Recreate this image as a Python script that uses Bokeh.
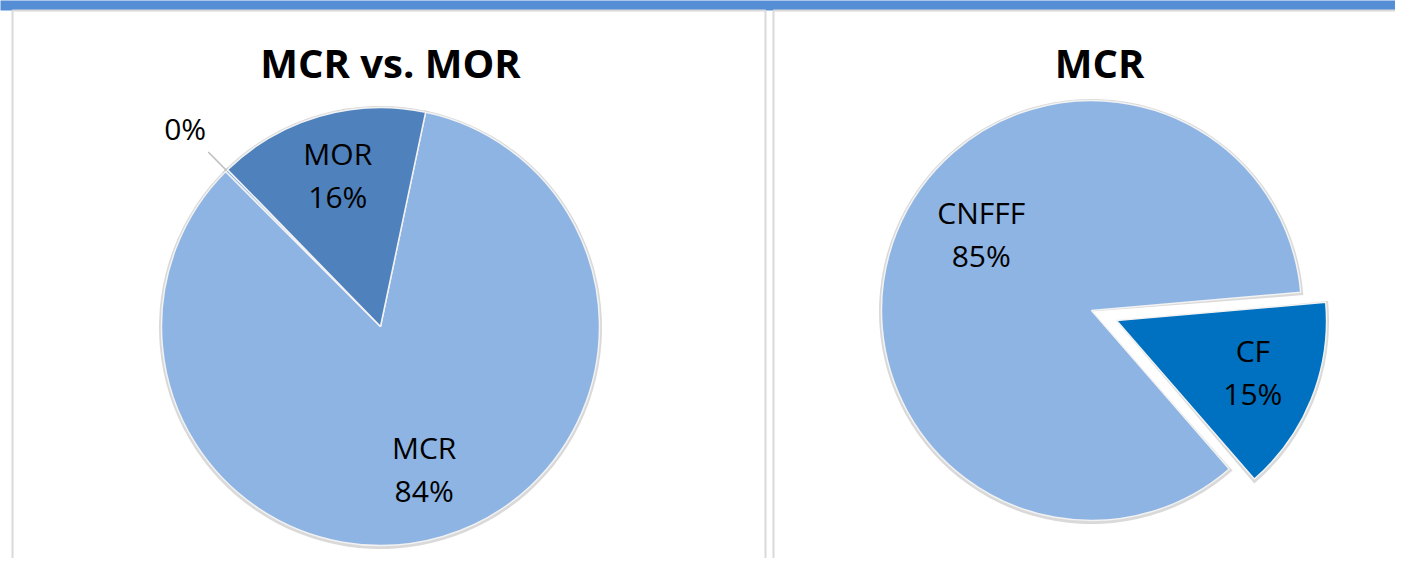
import math
from bokeh.plotting import figure
from bokeh.models import Range1d
from bokeh.core.properties import value
from bokeh.embed import file_html
from bokeh.resources import INLINE

# ---------------- data ----------------
left_title = "MCR vs. MOR"
left_categories = ["MCR", "", "MOR"]
left_values = [0.842, 0.002, 0.156]
left_colors = ["#8EB4E3", "#8EB4E3", "#4F81BD"]

right_title = "MCR"
right_categories = ["CNFFF", "CF"]
right_values = [0.85, 0.15]
right_colors = ["#8EB4E3", "#0070C0"]

# ---------------- layout (screen pixels) ----------------
W, H = 1395, 558
X0, Y0 = 0, 0
SCREEN_BOTTOM = Y0 + H


def Y(sy):
    return SCREEN_BOTTOM - sy


FONT = "Open Sans"

p = figure(width=W, height=H, output_backend="svg", toolbar_location=None,
           x_range=Range1d(X0, X0 + W), y_range=Range1d(0, H),
           min_border=0, outline_line_color=None)
p.axis.visible = False
p.grid.visible = False
p.background_fill_color = "white"
p.border_fill_color = "white"

# top blue band
p.quad(left=[-10], right=[1500], top=[Y(-10)], bottom=[Y(10)],
       fill_color="#558ED5", line_color=None)

# panels
panels = [(12, 765), (773, 1500)]
for l, r in panels:
    p.quad(left=[l], right=[r], top=[Y(10)], bottom=[Y(700)],
           fill_color="white", line_color="#D9D9D9", line_width=2)


def draw_pie(title, cats, vals, colors, cx, cy, R, start, title_x,
             explode=None, label_frac=0.7, nudge=None):
    total = sum(vals)
    p.text(x=[title_x], y=[Y(62)], text=[title], text_font=value(FONT),
           text_font_style="bold", text_font_size="40px",
           text_align="center", text_baseline="middle", text_color="black")
    theta = start
    slices = []
    for i, v in enumerate(vals):
        span = v / total * 360.0
        t1, t2 = theta, theta + span
        theta = t2
        mid = math.radians((t1 + t2) / 2)
        e = explode.get(i, 0) if explode else 0
        ox = cx + e * math.sin(mid)
        oy = Y(cy) + e * math.cos(mid)
        slices.append((i, t1, t2, mid, ox, oy))
    # shadows
    for i, t1, t2, mid, ox, oy in slices:
        p.wedge(x=[ox], y=[oy - 1], radius=R + 2.5,
                start_angle=math.radians(90 - t2) - 0.01,
                end_angle=math.radians(90 - t1) + 0.01,
                direction="anticlock", fill_color="#BFBFBF",
                fill_alpha=0.6, line_color=None)
    for i, t1, t2, mid, ox, oy in slices:
        p.wedge(x=[ox], y=[oy], radius=R,
                start_angle=math.radians(90 - t2),
                end_angle=math.radians(90 - t1),
                direction="anticlock", fill_color=colors[i],
                line_color="#F2F2F2", line_width=1.5)
    # labels
    for i, t1, t2, mid, ox, oy in slices:
        pct = f"{round(vals[i] / total * 100):d}%"
        dx, dy = math.sin(mid), math.cos(mid)
        if vals[i] / total < 0.01:
            p.line(x=[ox + dx * R * 1.0, ox + dx * R * 1.12],
                   y=[oy + dy * R * 1.0, oy + dy * R * 1.12],
                   line_color="#BFBFBF", line_width=1.5)
            p.text(x=[ox + dx * R * 1.27], y=[oy + dy * R * 1.27],
                   text=[pct], text_font=value(FONT), text_font_size="30px",
                   text_align="center", text_baseline="middle",
                   text_color="black")
        else:
            lx, ly = ox + dx * R * label_frac, oy + dy * R * label_frac + 4
            if nudge and i in nudge:
                lx += nudge[i][0]
                ly += nudge[i][1]
            lines = [cats[i], pct] if cats[i] else [pct]
            n = len(lines)
            for k, t in enumerate(lines):
                p.text(x=[lx], y=[ly + (n - 1) * 21.5 - k * 43], text=[t],
                       text_font=value(FONT), text_font_size="30px",
                       text_align="center", text_baseline="middle",
                       text_color="black")


draw_pie(left_title, left_categories, left_values, left_colors,
         cx=380, cy=326, R=219, start=11.9, title_x=390)
draw_pie(right_title, right_categories, right_values, right_colors,
         cx=1091, cy=310, R=210, start=139.0, title_x=1099,
         explode={1: 27}, nudge={0: (26, 17)})

open("out.html", "w").write(file_html(p, INLINE))
